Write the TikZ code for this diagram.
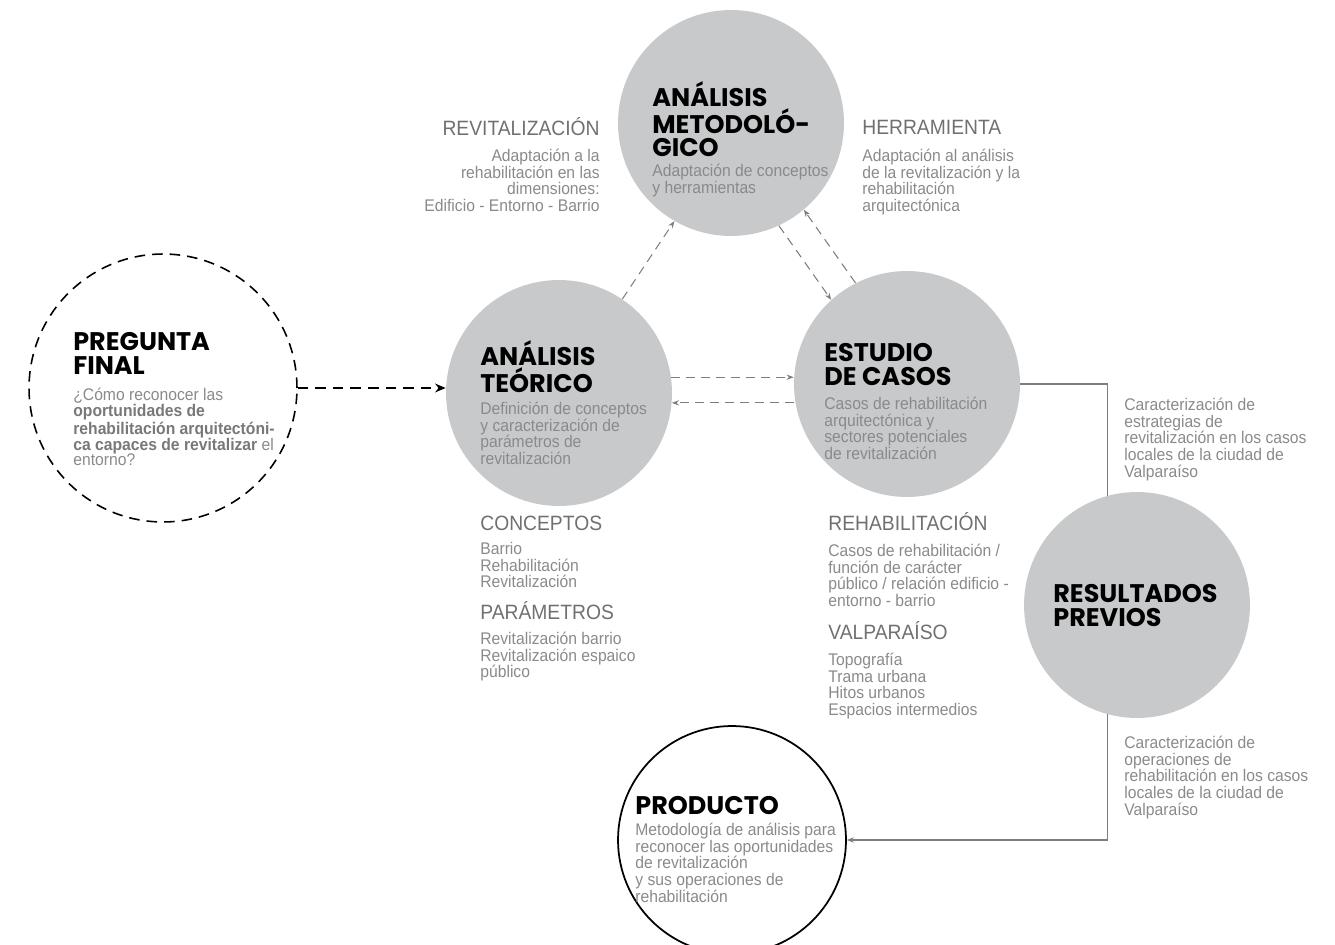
\documentclass[tikz,border=0pt]{standalone}
\usepackage{fontspec}
\usetikzlibrary{arrows.meta,positioning,calc}
\newfontfamily\ttlfont{Poppins}
\newfontfamily\bdyfont{Liberation Sans}[FakeStretch=0.93]
\definecolor{circgray}{RGB}{200,201,203}
\definecolor{txtgray}{RGB}{138,138,138}
\definecolor{boldgray}{RGB}{120,120,120}
\definecolor{hdgray}{RGB}{112,112,112}
\definecolor{linegray}{RGB}{125,125,125}

\tikzset{
  bubble/.style={circle, fill=circgray, minimum size=4.52cm, inner sep=0},
  ttl/.style={anchor=north west, inner sep=0, align=left, font=\ttlfont\bfseries\fontsize{14.5}{13.6}\selectfont},
  bdy/.style={anchor=north west, inner sep=0, align=left, text=txtgray, font=\bdyfont\fontsize{9.6}{9.45}\selectfont},
  hdg/.style={anchor=north west, inner sep=0, text=hdgray, font=\bdyfont\fontsize{11.8}{12}\selectfont},
  dsh/.style={draw=linegray, dash pattern=on 5pt off 3.5pt, line width=0.6pt, -{Stealth[length=4pt,width=3pt]}},
  link/.style={draw=linegray, line width=0.8pt}
}

\begin{document}
\begin{tikzpicture}[x=0.02cm, y=-0.02cm]
\useasboundingbox (0,0) rectangle (1335,945);

% circles
\node[bubble] (met) at (731,123) {};
\node[bubble] (teo) at (559,393) {};
\node[bubble] (est) at (907,384) {};
\node[bubble] (res) at (1137,605) {};
\node[circle, draw, line width=0.9pt, dash pattern=on 6pt off 4pt, minimum size=5.36cm, inner sep=0] (pre) at (163,388) {};
\node[circle, draw, line width=1pt, minimum size=4.56cm, inner sep=0] (prod) at (732,840) {};

% pregunta final
\node[ttl] (prettl) at (73,332) {PREGUNTA\\FINAL};
\node[bdy, font=\bdyfont\fontsize{9.6}{9}\selectfont] (prebdy) at (73,388) {¿Cómo reconocer las\\
  \textcolor{boldgray}{\bfseries oportunidades de}\\
  \textcolor{boldgray}{\bfseries rehabilitación arquitectóni-}\\
  \textcolor{boldgray}{\bfseries ca capaces de revitalizar} el\\
  entorno?};

% analisis teorico
\node[ttl] (teottl) at (480,340) {ANÁLISIS\\TEÓRICO};
\node[bdy] (teobdy) at (480,402) {Definición de conceptos\\y caracterización de\\parámetros de\\revitalización};
\node[hdg] (conhdg) at (480,516) {CONCEPTOS};
\node[bdy] (conbdy) at (480,542) {Barrio\\Rehabilitación\\Revitalización};
\node[hdg] (parhdg) at (480,601) {PARÁMETROS};
\node[bdy] (parbdy) at (480,632) {Revitalización barrio\\Revitalización espaico\\público};

% analisis metodologico
\node[ttl] (metttl) at (652,81) {ANÁLISIS\\METODOLÓ-\\GICO};
\node[bdy] (metbdy) at (652,164) {Adaptación de conceptos\\y herramientas};
\node[hdg, anchor=north east] (revhdg) at (600,117) {REVITALIZACIÓN};
\node[bdy, anchor=north east, align=right] (revbdy) at (600,149) {Adaptación a la\\rehabilitación en las\\dimensiones:\\Edificio - Entorno - Barrio};
\node[hdg] (herhdg) at (862,120) {HERRAMIENTA};
\node[bdy] (herbdy) at (862,149) {Adaptación al análisis\\de la revitalización y la\\rehabilitación\\arquitectónica};

% estudio de casos
\node[ttl] (estttl) at (824,343) {ESTUDIO\\DE CASOS};
\node[bdy] (estbdy) at (824,397) {Casos de rehabilitación\\arquitectónica y\\sectores potenciales\\de revitalización};
\node[hdg] (rehhdg) at (828,512) {REHABILITACIÓN};
\node[bdy] (rehbdy) at (828,544) {Casos de rehabilitación /\\función de carácter\\público / relación edificio -\\entorno - barrio};
\node[hdg] (valhdg) at (828,621) {VALPARAÍSO};
\node[bdy] (valbdy) at (828,653) {Topografía\\Trama urbana\\Hitos urbanos\\Espacios intermedios};

% resultados previos
\node[ttl] (resttl) at (1053,584) {RESULTADOS\\PREVIOS};
\node[bdy] (estrbdy) at (1124,398) {Caracterización de\\estrategias de\\revitalización en los casos\\locales de la ciudad de\\Valparaíso};
\node[bdy] (operbdy) at (1124,736) {Caracterización de\\operaciones de\\rehabilitación en los casos\\locales de la ciudad de\\Valparaíso};

% producto
\node[ttl] (prodttl) at (635,796) {PRODUCTO};
\node[bdy] (prodbdy) at (635,823) {Metodología de análisis para\\reconocer las oportunidades\\de revitalización\\y sus operaciones de\\rehabilitación};

% connectors
\draw[line width=1.1pt, dash pattern=on 6pt off 4pt, -{Stealth[length=6pt,width=5pt]}] (pre.east) -- (pre.east -| teo.west);
\draw[dsh] (teo.56) -- (met.240);
\draw[dsh] (met.-65) -- (est.132);
\draw[dsh] (est.117) -- (met.-50);
\draw[dsh] (teo.8) -- (teo.8 -| est.west);
\draw[dsh] (teo.-5 -| est.west) -- (teo.-5);
\draw[link] (est.east) -| (res.105);
\draw[link, -{Stealth[length=4pt,width=3pt]}] (res.255) |- (prod.east);
\end{tikzpicture}
\end{document}
